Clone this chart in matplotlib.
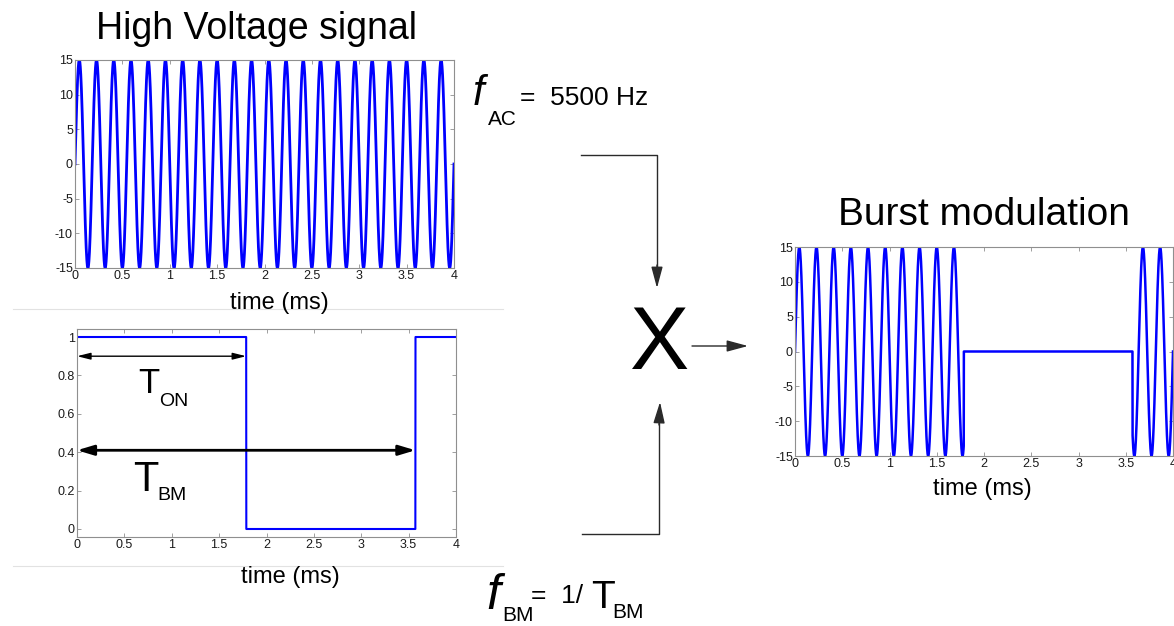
import numpy as np
import matplotlib.pyplot as plt

plt.rcParams['font.family'] = ['Liberation Sans', 'DejaVu Sans']

# signal parameters
f_ac_hz = 5500.0      # carrier, f_AC
amplitude = 15.0      # high voltage amplitude
f_bm_hz = 280.0       # burst modulation, T_BM ~ 3.57 ms
duty = 0.5            # T_ON ~ 1.79 ms
t_end_ms = 4.0

time_ticks = [0, 0.5, 1, 1.5, 2, 2.5, 3, 3.5, 4]
time_labels = ['0', '0.5', '1', '1.5', '2', '2.5', '3', '3.5', '4']
volt_ticks = [-15, -10, -5, 0, 5, 10, 15]
volt_labels = ['-15', '-10', '-5', '0', '5', '10', '15']
gate_ticks = [0, 0.2, 0.4, 0.6, 0.8, 1]
gate_labels = ['0', '0.2', '0.4', '0.6', '0.8', '1']

t_bm_ms = 1000.0 / f_bm_hz
t_on_ms = duty * t_bm_ms
t = np.linspace(0, t_end_ms, 8001)
hv = amplitude * np.sin(2 * np.pi * f_ac_hz * t / 1000.0)
gate = (np.mod(t, t_bm_ms) < t_on_ms).astype(float)
burst = hv * gate

W, H = 1174, 626
fig = plt.figure(figsize=(W / 100, H / 100), dpi=100)


def box(l, t_, r, b):
    return [l / W, 1 - b / H, (r - l) / W, (b - t_) / H]


def matlab_style(ax, yt, yl):
    ax.set_xlim(0, t_end_ms)
    ax.set_xticks(time_ticks)
    ax.set_xticklabels(time_labels)
    ax.set_yticks(yt)
    ax.set_yticklabels(yl)
    for s in ax.spines.values():
        s.set_color('#8f8f8f')
        s.set_linewidth(0.8)
    ax.tick_params(direction='in', length=3, width=0.6, color='#8f8f8f',
                   top=True, right=True, labelsize=9, labelcolor='#1a1a1a', pad=1.5)


# high voltage signal
ax1 = fig.add_axes(box(75, 60, 454, 268))
ax1.plot(t, hv, color='#0000ff', lw=2.0)
ax1.set_ylim(-15, 15)
matlab_style(ax1, volt_ticks, volt_labels)

# burst gate
ax2 = fig.add_axes(box(77, 329, 456, 537))
ax2.plot(t, gate, color='#0000ff', lw=1.5)
ax2.set_ylim(-0.0417, 1.0417)
matlab_style(ax2, gate_ticks, gate_labels)
ax2.annotate('', xy=(t_on_ms, 0.9), xytext=(0, 0.9),
             arrowprops=dict(arrowstyle='<|-|>,head_length=0.8,head_width=0.2',
                             lw=1.0, color='black', shrinkA=0, shrinkB=0))
ax2.annotate('', xy=(t_bm_ms, 0.41), xytext=(0, 0.41),
             arrowprops=dict(arrowstyle='<|-|>,head_length=1.0,head_width=0.3',
                             lw=2.0, color='black', shrinkA=0, shrinkB=0))

# burst modulation result
ax3 = fig.add_axes(box(795, 247, 1173, 456))
ax3.plot(t, burst, color='#0000ff', lw=1.8)
ax3.set_ylim(-15, 15)
matlab_style(ax3, volt_ticks, volt_labels)

# overlay in pixel units for the diagram parts
ov = fig.add_axes([0, 0, 1, 1])
ov.set_xlim(0, W)
ov.set_ylim(H, 0)
ov.axis('off')

ov.plot([13, 503], [309, 309], color='#e2e2e2', lw=0.8, zorder=0)
ov.plot([13, 503], [566, 566], color='#e2e2e2', lw=0.8, zorder=0)

ov.text(256, 39, 'High Voltage signal', fontsize=27, ha='center', va='baseline')
ov.text(984, 225, 'Burst modulation', fontsize=28, ha='center', va='baseline')
ov.text(279, 303, 'time (ms)', fontsize=17, ha='center', va='center')
ov.text(290, 577, 'time (ms)', fontsize=17, ha='center', va='center')
ov.text(982, 489, 'time (ms)', fontsize=17, ha='center', va='center')

ov.text(138, 393, 'T', fontsize=25, va='baseline')
ov.text(159, 406, 'ON', fontsize=14, va='baseline')
ov.text(133, 491, 'T', fontsize=30, va='baseline')
ov.text(157, 500, 'BM', fontsize=14, va='baseline')

ov.text(473, 105, 'f', fontsize=30, style='italic', va='baseline')
ov.text(488, 125, 'AC', fontsize=15, va='baseline')
ov.text(520, 105, '=  5500 Hz', fontsize=19, va='baseline')

ov.text(486, 609, 'f', fontsize=36, style='italic', va='baseline')
ov.text(502, 621, 'BM', fontsize=15, va='baseline')
ov.text(531, 603, '=  1/', fontsize=19, va='baseline')
ov.text(591, 608, 'T', fontsize=28, va='baseline')
ov.text(612, 618, 'BM', fontsize=15, va='baseline')

ov.text(660, 346, 'X', fontsize=64, ha='center', va='center')

conn = dict(color='#2a2a2a', lw=1.0)
head = dict(arrowstyle='-|>,head_length=1.3,head_width=0.35', lw=1.0,
            color='#2a2a2a', shrinkA=0, shrinkB=0)
ov.plot([581, 657, 657], [155, 155, 270], **conn)
ov.annotate('', xy=(657, 288), xytext=(657, 265), arrowprops=head)
ov.plot([582, 659, 659], [534, 534, 420], **conn)
ov.annotate('', xy=(660, 402), xytext=(659, 425), arrowprops=head)
ov.annotate('', xy=(748, 346), xytext=(692, 346), arrowprops=head)

fig.savefig('out.png', dpi=100)
